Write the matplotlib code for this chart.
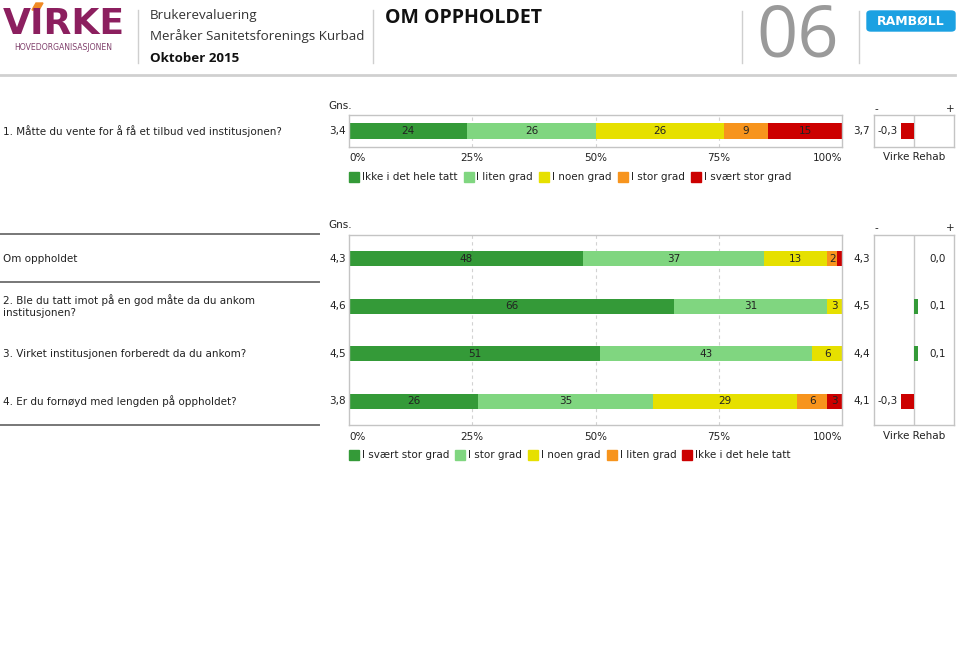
import matplotlib.pyplot as plt
from matplotlib.patches import Rectangle, FancyBboxPatch, Polygon
from matplotlib.lines import Line2D

W, H = 960, 659

# --- data -------------------------------------------------------------
q1_label = "1. Måtte du vente for å få et tilbud ved institusjonen?"
q1_cats = ["Ikke i det hele tatt", "I liten grad", "I noen grad", "I stor grad", "I svært stor grad"]
q1_vals = [24, 26, 26, 9, 15]
q1_mean = 3.4
q1_bench = 3.7
q1_diff = -0.3

q_labels = ["Om oppholdet",
            "2. Ble du tatt imot på en god måte da du ankom\ninstitusjonen?",
            "3. Virket institusjonen forberedt da du ankom?",
            "4. Er du fornøyd med lengden på oppholdet?"]
q_cats = ["I svært stor grad", "I stor grad", "I noen grad", "I liten grad", "Ikke i det hele tatt"]
q_vals = [[48, 37, 13, 2, 1],
          [66, 31, 3, 0, 0],
          [51, 43, 6, 0, 0],
          [26, 35, 29, 6, 3]]
q_means = [4.3, 4.6, 4.5, 3.8]
q_bench = [4.3, 4.5, 4.4, 4.1]
q_diff = [0.0, 0.1, 0.1, -0.3]

ticks = [0, 25, 50, 75, 100]
bench_name = "Virke Rehab"

colors = ["#349a38", "#80d680", "#e6e000", "#f7941d", "#cc0000"]
txt = "#222222"
FS = 7.5


def fx(x):
    return x / W


def fy(y):
    return 1 - y / H


def comma(v):
    return f"{v:.1f}".replace(".", ",")


fig = plt.figure(figsize=(9.6, 6.59), dpi=100)


def ax_px(x0, y0, x1, y1):
    return fig.add_axes([fx(x0), fy(y1), (x1 - x0) / W, (y1 - y0) / H])


def hline(x0, x1, y, color, lw):
    fig.add_artist(Line2D([fx(x0), fx(x1)], [fy(y), fy(y)], color=color, lw=lw))


def vline(x, y0, y1, color, lw):
    fig.add_artist(Line2D([fx(x), fx(x)], [fy(y0), fy(y1)], color=color, lw=lw))


def style_box(ax):
    ax.set_xticks([])
    ax.set_yticks([])
    for s in ax.spines.values():
        s.set_color("#c4c4c4")
        s.set_linewidth(1)


def draw_bars(ax, rows, height):
    for y, vals in enumerate(rows):
        tot = sum(vals)
        left = 0
        for v, c in zip(vals, colors):
            w = v * 100 / tot
            if v > 0:
                ax.barh(y, w, left=left, height=height, color=c, edgecolor="none", zorder=2)
            if v >= 2:
                ax.text(left + w / 2, y, str(v), ha="center", va="center",
                        fontsize=FS, color=txt, zorder=3)
            left += w
    ax.set_xlim(0, 100)
    for t in ticks[1:-1]:
        ax.axvline(t, color="#d2d2d2", lw=0.8, ls=(0, (3, 3)), zorder=1)
    style_box(ax)


def draw_diff(ax, diffs, height):
    ax.set_xlim(-0.95, 0.95)
    ax.axvline(0, color="#c8c8c8", lw=1, zorder=1)
    for y, d in enumerate(diffs):
        c = colors[0] if d >= 0 else colors[-1]
        if d != 0:
            ax.barh(y, d, height=height, color=c, edgecolor="none", zorder=2)
        if d < 0:
            ax.text(0.04, y, comma(d), ha="left", va="center", fontsize=FS, color=txt,
                    transform=ax.get_yaxis_transform())
        else:
            ax.text(0.9, y, comma(d), ha="right", va="center", fontsize=FS, color=txt,
                    transform=ax.get_yaxis_transform())
    style_box(ax)


def ticklabels(y):
    for t in ticks:
        x = 349 + t * (842 - 349) / 100
        ha = "left" if t == 0 else ("right" if t == 100 else "center")
        fig.text(fx(x), fy(y), f"{t}%", ha=ha, va="center", fontsize=FS, color=txt)
    fig.text(fx(914), fy(y - 1), bench_name, ha="center", va="center", fontsize=FS, color=txt)


def legend(cats, y):
    r = fig.canvas.get_renderer()
    x = 349
    for c, lab in zip(colors, cats):
        fig.add_artist(Rectangle((fx(x), fy(y + 5)), 10 / W, 10 / H, color=c,
                                 transform=fig.transFigure))
        t = fig.text(fx(x + 13), fy(y), lab, ha="left", va="center", fontsize=FS, color=txt)
        w = t.get_window_extent(r).width
        x = x + 13 + w + 6


def header_marks(y):
    fig.text(fx(876), fy(y), "-", ha="center", va="center", fontsize=FS, color=txt)
    fig.text(fx(950), fy(y), "+", ha="center", va="center", fontsize=FS, color=txt)


# --- header -----------------------------------------------------------
fig.text(fx(3), fy(24), "VIRKE", ha="left", va="center", fontsize=26, fontweight="bold",
         color="#8c1f5f")
fig.add_artist(Polygon([(fx(32), fy(10)), (fx(36), fy(3)), (fx(43), fy(3)), (fx(39), fy(10))],
                       closed=True, color="#f08a24", transform=fig.transFigure))
fig.text(fx(63), fy(47), "HOVEDORGANISASJONEN", ha="center", va="center", fontsize=5.6,
         color="#80406c")
vline(138, 10, 63, "#cfcfcf", 1)
fig.text(fx(150), fy(15), "Brukerevaluering", ha="left", va="center", fontsize=9.6,
         color="#333333", family="Open Sans")
fig.text(fx(150), fy(36), "Meråker Sanitetsforenings Kurbad", ha="left", va="center",
         fontsize=9.6, color="#333333", family="Open Sans")
fig.text(fx(150), fy(58), "Oktober 2015", ha="left", va="center", fontsize=9.6,
         fontweight="bold", color="#111111", family="Open Sans")
vline(373, 10, 63, "#cfcfcf", 1)
fig.text(fx(385), fy(18), "OM OPPHOLDET", ha="left", va="center", fontsize=14,
         fontweight="bold", color="#111111", family="Open Sans")
vline(742, 11, 63, "#cfcfcf", 1)
fig.text(fx(798), fy(38), "06", ha="center", va="center", fontsize=52,
         color="#9a9a9a", family="Open Sans")
vline(859, 11, 63, "#cfcfcf", 1)
fig.add_artist(FancyBboxPatch((fx(867), fy(31)), 88 / W, 20 / H,
                              boxstyle="round,pad=0,rounding_size=0.004",
                              color="#1ba1e2", transform=fig.transFigure))
fig.text(fx(911), fy(21), "RAMBØLL", ha="center", va="center", fontsize=9,
         fontweight="bold", color="white")
hline(0, 955, 75, "#d0d0d0", 2)

# --- question 1 -------------------------------------------------------
fig.text(fx(328), fy(106), "Gns.", ha="left", va="center", fontsize=FS, color=txt)
header_marks(109)
fig.text(fx(3), fy(131), q1_label, ha="left", va="center", fontsize=FS, color=txt)
fig.text(fx(346), fy(131), comma(q1_mean), ha="right", va="center", fontsize=FS, color=txt)
fig.text(fx(853), fy(131), comma(q1_bench), ha="left", va="center", fontsize=FS, color=txt)

ax1 = ax_px(349, 115, 842, 147)
draw_bars(ax1, [q1_vals], 0.47)
ax1.set_ylim(-0.5, 0.5)
ax1d = ax_px(874, 115, 954, 147)
draw_diff(ax1d, [q1_diff], 0.47)
ax1d.set_ylim(-0.5, 0.5)
ticklabels(158)
legend(q1_cats, 177)

# --- questions 2-4 ----------------------------------------------------
fig.text(fx(328), fy(225), "Gns.", ha="left", va="center", fontsize=FS, color=txt)
header_marks(228)
hline(0, 319, 234, "#777777", 1.4)
hline(0, 319, 282, "#777777", 1.4)
hline(0, 319, 425, "#777777", 1.4)

ax2 = ax_px(349, 235, 842, 425)
draw_bars(ax2, q_vals, 0.32)
ax2.set_ylim(3.5, -0.5)
ax2d = ax_px(874, 235, 954, 425)
draw_diff(ax2d, q_diff, 0.32)
ax2d.set_ylim(3.5, -0.5)

for i, lab in enumerate(q_labels):
    y = ax2.transData.transform((0, i))[1]
    yf = fig.transFigure.inverted().transform((0, y))[1]
    fig.text(fx(3), yf, lab, ha="left", va="center", fontsize=FS, color=txt, linespacing=1.2)
    fig.text(fx(346), yf, comma(q_means[i]), ha="right", va="center", fontsize=FS, color=txt)
    fig.text(fx(853), yf, comma(q_bench[i]), ha="left", va="center", fontsize=FS, color=txt)

ticklabels(437)
legend(q_cats, 455)

fig.savefig("out.png", dpi=100)
